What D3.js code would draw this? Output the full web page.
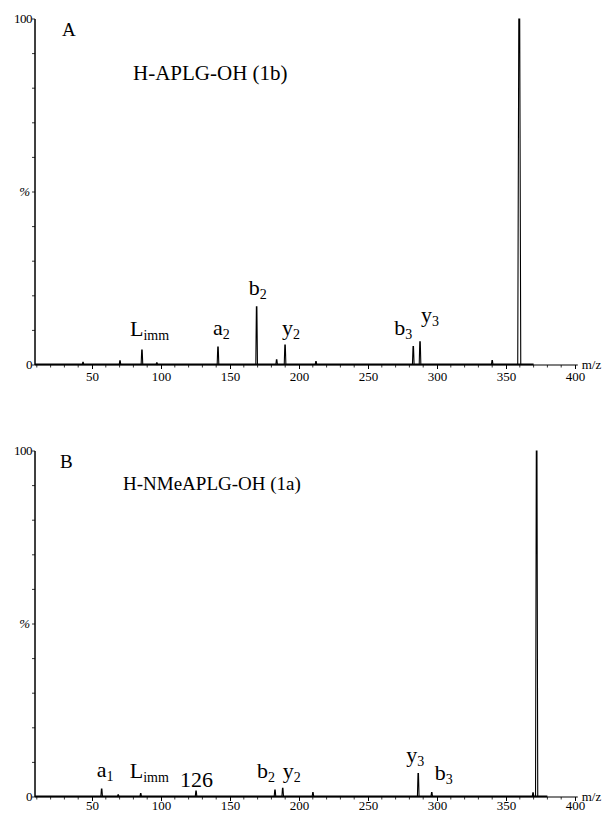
<!DOCTYPE html>
<meta charset="utf-8">
<style>
body { margin: 0; background: #fff; }
svg { display: block; }
text { font-family: "Liberation Serif", "Times New Roman", serif; fill: #000; }
.tick text { font-size: 13px; }
</style>
<body>
<script src="https://d3js.org/d3.v7.min.js"></script>
<script>

// m/z axis
var mzTicks = [50, 100, 150, 200, 250, 300, 350, 400];
var pctTicks = [0, 100];

// panel A: H-APLG-OH (1b)
var peaksA_mz  = [43.5, 70.3, 86.2, 97, 141.3, 169.3, 183.8, 189.9, 212.3, 282.8, 287.7, 340, 359.6];
var peaksA_int = [0.8, 1.2, 4.3, 0.6, 5.2, 16.8, 1.5, 5.8, 1.0, 5.3, 6.7, 1.3, 100];
var labelsA_main = ["L", "a", "b", "y", "b", "y"];
var labelsA_sub  = ["imm", "2", "2", "2", "3", "3"];
var labelsA_mz   = [86.2, 141.3, 169.3, 189.9, 282.8, 287.7];

// panel B: H-NMeAPLG-OH (1a)
var peaksB_mz  = [57, 69, 85.3, 125.4, 182.6, 188.2, 210.1, 286.4, 296.2, 369.6, 372.2];
var peaksB_int = [2.3, 0.6, 1.0, 1.7, 2.0, 2.5, 1.3, 6.8, 1.3, 1.2, 100];
var labelsB_main = ["a", "L", "126", "b", "y", "y", "b"];
var labelsB_sub  = ["1", "imm", "", "2", "2", "3", "3"];
var labelsB_mz   = [57, 85.3, 125.4, 182.6, 188.2, 286.4, 296.2];

// label offsets (px) from the peak top
var offA = [[-12, -14], [-5, -12], [-8, -12], [-3, -10], [-19, -12], [1, -20]];
var offB = [[-5, -12], [-11, -16], [-16, -4], [-18, -12], [0, -10], [-12, -11], [3, -13]];

var svg = d3.select("body").append("svg")
    .attr("width", 604)
    .attr("height", 813);

var x = d3.scaleLinear()
    .domain([50, 400])
    .range([92, 575]);

function panel(opt) {
  var y = d3.scaleLinear().domain([0, 100]).range([opt.y0, opt.y0 - 346]);
  var g = svg.append("g");
  var x0 = x(8.7);

  // y axis
  g.append("line")
      .attr("x1", x0).attr("x2", x0)
      .attr("y1", y(0)).attr("y2", y(100))
      .attr("stroke", "#000").attr("stroke-width", 1.5);
  g.selectAll(".ytick")
    .data(d3.range(0, 101, 10))
    .enter().append("line")
      .attr("x1", x0 - 3).attr("x2", x0)
      .attr("y1", function(d) { return y(d); })
      .attr("y2", function(d) { return y(d); })
      .attr("stroke", "#000").attr("stroke-width", 0.8);
  g.selectAll(".ylab")
    .data(pctTicks)
    .enter().append("text")
      .attr("x", x0 - 3)
      .attr("y", function(d) { return y(d) + 4; })
      .attr("text-anchor", "end")
      .style("font-size", "13px")
      .style("letter-spacing", "-0.5px")
      .text(function(d) { return d; });
  g.append("text")
      .attr("x", x0 - 5)
      .attr("y", y(50) + 4)
      .attr("text-anchor", "end")
      .style("font-size", "13px")
      .style("font-style", "italic")
      .text("%");

  // x axis
  var ax = g.append("g")
      .attr("transform", "translate(0," + y(0) + ")")
      .call(d3.axisBottom(x).tickValues(mzTicks).tickSize(4).tickPadding(opt.tickPad)
        .tickFormat(d3.format("d")));
  ax.select(".domain").remove();
  ax.append("line")
      .attr("x1", x0).attr("x2", x(402))
      .attr("stroke", "#000").attr("stroke-width", 1.2);
  ax.selectAll(".minor")
    .data(d3.range(10, 401, 10).filter(function(d) { return d % 50; }))
    .enter().append("line")
      .attr("x1", function(d) { return x(d); })
      .attr("x2", function(d) { return x(d); })
      .attr("y1", 0).attr("y2", 2.5)
      .attr("stroke", "#000").attr("stroke-width", 0.8);
  g.append("text")
      .attr("x", x(402) + 4)
      .attr("y", y(0) + 4)
      .style("font-size", "13px")
      .text("m/z");

  // spectrum baseline noise
  g.append("line")
      .attr("x1", x0).attr("x2", x(opt.end))
      .attr("y1", y(0) - 0.6).attr("y2", y(0) - 0.6)
      .attr("stroke", "#000").attr("stroke-width", 1.6);

  // peaks
  var peaks = opt.mz.map(function(m, i) { return [m, opt.int[i]]; });
  g.selectAll(".peak")
    .data(peaks)
    .enter().append("path")
      .attr("fill", "none")
      .attr("stroke", "#000")
      .attr("stroke-width", 1.1)
      .attr("d", function(d) {
        var w = d[1] > 50 ? opt.bigW : 0.6;
        return "M" + x(d[0] - w) + "," + y(0) +
               "L" + x(d[0] - w * 0.3) + "," + y(d[1]) +
               "L" + x(d[0] + w * 0.3) + "," + y(d[1]) +
               "L" + x(d[0] + w) + "," + y(0);
      });

  // peak labels
  opt.lmain.forEach(function(t, i) {
    var m = opt.lmz[i];
    var h = opt.int[opt.mz.indexOf(m)];
    var tx = g.append("text")
        .attr("x", x(m) + opt.off[i][0])
        .attr("y", y(h) + opt.off[i][1])
        .style("font-size", "22px");
    tx.append("tspan").text(t);
    if (opt.lsub[i]) {
      tx.append("tspan")
          .attr("dy", 4)
          .style("font-size", "14px")
          .text(opt.lsub[i]);
    }
  });

  // panel letter and title
  g.append("text")
      .attr("x", opt.letterX)
      .attr("y", y(100) + 17)
      .style("font-size", "19px")
      .text(opt.letter);
  g.append("text")
      .attr("x", opt.titleX)
      .attr("y", y(100) + opt.titleDy)
      .style("font-size", opt.titleSize)
      .text(opt.title);
}

panel({
  y0: 365, mz: peaksA_mz, int: peaksA_int,
  lmain: labelsA_main, lsub: labelsA_sub, lmz: labelsA_mz, off: offA,
  end: 370, bigW: 1.1, tickPad: 3,
  letter: "A", letterX: 62, title: "H-APLG-OH (1b)", titleX: 133, titleDy: 61, titleSize: "21px"
});

panel({
  y0: 797, mz: peaksB_mz, int: peaksB_int,
  lmain: labelsB_main, lsub: labelsB_sub, lmz: labelsB_mz, off: offB,
  end: 380, bigW: 0.8, tickPad: 0,
  letter: "B", letterX: 60, title: "H-NMeAPLG-OH (1a)", titleX: 123, titleDy: 39, titleSize: "19px"
});

</script>
</body>
